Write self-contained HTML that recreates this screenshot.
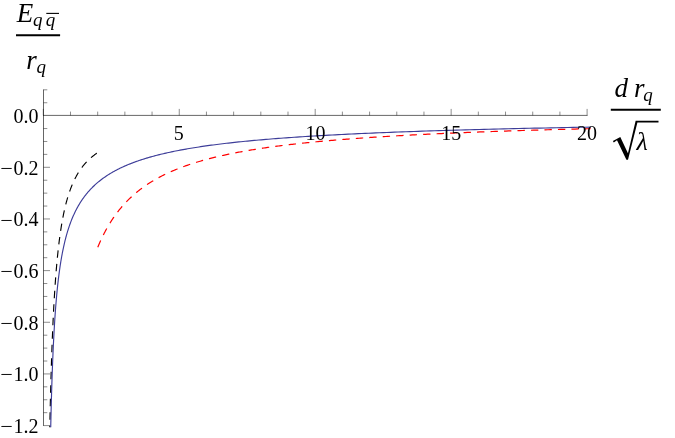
<!DOCTYPE html>
<html><head><meta charset="utf-8"><title>plot</title>
<style>
html,body{margin:0;padding:0;background:#fff;}
svg{display:block;will-change:transform;}
text{font-family:"Liberation Serif",serif;fill:#000;}
.tl{font-size:20px;}
.it{font-size:27px;font-style:italic;}
.sub{font-size:19px;font-style:italic;}
.ax{stroke:#000;stroke-width:0.75;stroke-opacity:.8;fill:none;}
.tk{stroke:#000;stroke-width:0.6;stroke-opacity:.75;fill:none;}
.bl{stroke:#3d3d99;stroke-width:1.15;fill:none;}
.rd{stroke:#ff0000;stroke-width:1.2;fill:none;stroke-dasharray:7.36 6.13;}
.bk{stroke:#000;stroke-width:1.15;fill:none;stroke-dasharray:7.37 6.14;}
</style></head><body>
<svg width="675" height="438" viewBox="0 0 675 438">
<rect width="675" height="438" fill="#fff"/>
<line x1="43.5" y1="89.52" x2="43.5" y2="425.89" class="ax"/>
<line x1="43.0" y1="115.4" x2="587.55" y2="115.4" class="ax"/>
<line x1="43.30" y1="115.4" x2="43.30" y2="108.90" class="tk"/>
<line x1="70.49" y1="115.4" x2="70.49" y2="111.60" class="tk"/>
<line x1="97.68" y1="115.4" x2="97.68" y2="111.60" class="tk"/>
<line x1="124.87" y1="115.4" x2="124.87" y2="111.60" class="tk"/>
<line x1="152.06" y1="115.4" x2="152.06" y2="111.60" class="tk"/>
<line x1="179.25" y1="115.4" x2="179.25" y2="108.90" class="tk"/>
<line x1="206.44" y1="115.4" x2="206.44" y2="111.60" class="tk"/>
<line x1="233.63" y1="115.4" x2="233.63" y2="111.60" class="tk"/>
<line x1="260.82" y1="115.4" x2="260.82" y2="111.60" class="tk"/>
<line x1="288.01" y1="115.4" x2="288.01" y2="111.60" class="tk"/>
<line x1="315.20" y1="115.4" x2="315.20" y2="108.90" class="tk"/>
<line x1="342.39" y1="115.4" x2="342.39" y2="111.60" class="tk"/>
<line x1="369.58" y1="115.4" x2="369.58" y2="111.60" class="tk"/>
<line x1="396.77" y1="115.4" x2="396.77" y2="111.60" class="tk"/>
<line x1="423.96" y1="115.4" x2="423.96" y2="111.60" class="tk"/>
<line x1="451.15" y1="115.4" x2="451.15" y2="108.90" class="tk"/>
<line x1="478.34" y1="115.4" x2="478.34" y2="111.60" class="tk"/>
<line x1="505.53" y1="115.4" x2="505.53" y2="111.60" class="tk"/>
<line x1="532.72" y1="115.4" x2="532.72" y2="111.60" class="tk"/>
<line x1="559.91" y1="115.4" x2="559.91" y2="111.60" class="tk"/>
<line x1="587.10" y1="115.4" x2="587.10" y2="108.90" class="tk"/>
<line x1="43.5" y1="89.82" x2="47.30" y2="89.82" class="tk"/>
<line x1="43.5" y1="102.74" x2="47.30" y2="102.74" class="tk"/>
<line x1="43.5" y1="128.56" x2="47.30" y2="128.56" class="tk"/>
<line x1="43.5" y1="141.48" x2="47.30" y2="141.48" class="tk"/>
<line x1="43.5" y1="154.39" x2="47.30" y2="154.39" class="tk"/>
<line x1="43.5" y1="167.31" x2="50.00" y2="167.31" class="tk"/>
<line x1="43.5" y1="180.22" x2="47.30" y2="180.22" class="tk"/>
<line x1="43.5" y1="193.13" x2="47.30" y2="193.13" class="tk"/>
<line x1="43.5" y1="206.05" x2="47.30" y2="206.05" class="tk"/>
<line x1="43.5" y1="218.96" x2="50.00" y2="218.96" class="tk"/>
<line x1="43.5" y1="231.88" x2="47.30" y2="231.88" class="tk"/>
<line x1="43.5" y1="244.79" x2="47.30" y2="244.79" class="tk"/>
<line x1="43.5" y1="257.70" x2="47.30" y2="257.70" class="tk"/>
<line x1="43.5" y1="270.62" x2="50.00" y2="270.62" class="tk"/>
<line x1="43.5" y1="283.53" x2="47.30" y2="283.53" class="tk"/>
<line x1="43.5" y1="296.45" x2="47.30" y2="296.45" class="tk"/>
<line x1="43.5" y1="309.36" x2="47.30" y2="309.36" class="tk"/>
<line x1="43.5" y1="322.27" x2="50.00" y2="322.27" class="tk"/>
<line x1="43.5" y1="335.19" x2="47.30" y2="335.19" class="tk"/>
<line x1="43.5" y1="348.10" x2="47.30" y2="348.10" class="tk"/>
<line x1="43.5" y1="361.02" x2="47.30" y2="361.02" class="tk"/>
<line x1="43.5" y1="373.93" x2="50.00" y2="373.93" class="tk"/>
<line x1="43.5" y1="386.84" x2="47.30" y2="386.84" class="tk"/>
<line x1="43.5" y1="399.76" x2="47.30" y2="399.76" class="tk"/>
<line x1="43.5" y1="412.67" x2="47.30" y2="412.67" class="tk"/>
<line x1="43.5" y1="425.59" x2="50.00" y2="425.59" class="tk"/>
<path d="M96.87 153.15 L96.59 153.34 L96.31 153.54 L96.02 153.74 L95.74 153.94 L95.46 154.14 L95.19 154.34 L94.91 154.55 L94.64 154.75 L94.36 154.96 L94.09 155.17 L93.82 155.37 L93.55 155.58 L93.29 155.79 L93.02 156.00 L92.76 156.22 L92.49 156.43 L92.23 156.64 L91.97 156.86 L91.71 157.08 L91.45 157.30 L91.20 157.51 L90.94 157.74 L90.69 157.96 L90.44 158.18 L90.19 158.40 L89.94 158.63 L89.69 158.86 L89.44 159.08 L89.20 159.31 L88.96 159.54 L88.71 159.77 L88.47 160.01 L88.23 160.24 L87.99 160.48 L87.75 160.71 L87.52 160.95 L87.28 161.19 L87.05 161.43 L86.82 161.67 L86.59 161.91 L86.36 162.16 L86.13 162.40 L85.90 162.65 L85.67 162.90 L85.45 163.15 L85.22 163.40 L85.00 163.65 L84.78 163.90 L84.56 164.16 L84.34 164.41 L84.12 164.67 L83.91 164.93 L83.69 165.19 L83.47 165.45 L83.26 165.72 L83.05 165.98 L82.84 166.25 L82.63 166.51 L82.42 166.78 L82.21 167.05 L82.00 167.32 L81.80 167.60 L81.59 167.87 L81.39 168.15 L81.19 168.43 L80.99 168.70 L80.79 168.99 L80.59 169.27 L80.39 169.55 L80.19 169.84 L80.00 170.12 L79.80 170.41 L79.61 170.70 L79.42 170.99 L79.22 171.28 L79.03 171.58 L78.84 171.87 L78.66 172.17 L78.47 172.47 L78.28 172.77 L78.10 173.07 L77.91 173.38 L77.73 173.68 L77.54 173.99 L77.36 174.30 L77.18 174.61 L77.00 174.92 L76.82 175.24 L76.65 175.55 L76.47 175.87 L76.29 176.19 L76.12 176.51 L75.94 176.83 L75.77 177.16 L75.60 177.48 L75.43 177.81 L75.26 178.14 L75.09 178.47 L74.92 178.80 L74.75 179.14 L74.58 179.48 L74.42 179.81 L74.25 180.15 L74.09 180.50 L73.92 180.84 L73.76 181.19 L73.60 181.53 L73.44 181.88 L73.28 182.23 L73.12 182.59 L72.96 182.94 L72.81 183.30 L72.65 183.66 L72.49 184.02 L72.34 184.38 L72.18 184.75 L72.03 185.11 L71.88 185.48 L71.73 185.85 L71.58 186.23 L71.43 186.60 L71.28 186.98 L71.13 187.35 L70.98 187.74 L70.84 188.12 L70.69 188.50 L70.54 188.89 L70.40 189.28 L70.26 189.67 L70.11 190.06 L69.97 190.46 L69.83 190.86 L69.69 191.25 L69.55 191.66 L69.41 192.06 L69.27 192.47 L69.13 192.87 L69.00 193.28 L68.86 193.70 L68.73 194.11 L68.59 194.53 L68.46 194.95 L68.32 195.37 L68.19 195.79 L68.06 196.22 L67.93 196.65 L67.80 197.08 L67.67 197.51 L67.54 197.95 L67.41 198.38 L67.28 198.82 L67.16 199.27 L67.03 199.71 L66.90 200.16 L66.78 200.61 L66.66 201.06 L66.53 201.51 L66.41 201.97 L66.29 202.43 L66.16 202.89 L66.04 203.35 L65.92 203.82 L65.80 204.29 L65.68 204.76 L65.57 205.24 L65.45 205.71 L65.33 206.19 L65.21 206.67 L65.10 207.16 L64.98 207.64 L64.87 208.13 L64.75 208.63 L64.64 209.12 L64.53 209.62 L64.42 210.12 L64.30 210.62 L64.19 211.13 L64.08 211.63 L63.97 212.15 L63.86 212.66 L63.76 213.18 L63.65 213.70 L63.54 214.22 L63.43 214.74 L63.33 215.27 L63.22 215.80 L63.11 216.33 L63.01 216.87 L62.91 217.41 L62.80 217.95 L62.70 218.50 L62.60 219.04 L62.49 219.59 L62.39 220.15 L62.29 220.71 L62.19 221.26 L62.09 221.83 L61.99 222.39 L61.89 222.96 L61.80 223.53 L61.70 224.11 L61.60 224.69 L61.50 225.27 L61.41 225.85 L61.31 226.44 L61.22 227.03 L61.12 227.62 L61.03 228.22 L60.94 228.82 L60.84 229.42 L60.75 230.03 L60.66 230.64 L60.57 231.25 L60.48 231.87 L60.38 232.49 L60.29 233.11 L60.20 233.74 L60.12 234.37 L60.03 235.00 L59.94 235.64 L59.85 236.28 L59.76 236.92 L59.68 237.57 L59.59 238.22 L59.50 238.87 L59.42 239.53 L59.33 240.19 L59.25 240.85 L59.17 241.52 L59.08 242.19 L59.00 242.87 L58.92 243.55 L58.83 244.23 L58.75 244.91 L58.67 245.60 L58.59 246.30 L58.51 246.99 L58.43 247.69 L58.35 248.40 L58.27 249.11 L58.19 249.82 L58.11 250.54 L58.03 251.25 L57.96 251.98 L57.88 252.71 L57.80 253.44 L57.73 254.17 L57.65 254.91 L57.57 255.66 L57.50 256.40 L57.42 257.15 L57.35 257.91 L57.28 258.67 L57.20 259.43 L57.13 260.20 L57.06 260.97 L56.98 261.75 L56.91 262.53 L56.84 263.31 L56.77 264.10 L56.70 264.89 L56.63 265.69 L56.56 266.49 L56.49 267.30 L56.42 268.11 L56.35 268.92 L56.28 269.74 L56.21 270.56 L56.15 271.39 L56.08 272.22 L56.01 273.06 L55.94 273.90 L55.88 274.74 L55.81 275.59 L55.75 276.45 L55.68 277.30 L55.62 278.17 L55.55 279.04 L55.49 279.91 L55.42 280.79 L55.36 281.67 L55.30 282.56 L55.23 283.45 L55.17 284.34 L55.11 285.24 L55.05 286.15 L54.98 287.06 L54.92 287.98 L54.86 288.90 L54.80 289.82 L54.74 290.76 L54.68 291.69 L54.62 292.63 L54.56 293.58 L54.50 294.53 L54.44 295.48 L54.39 296.44 L54.33 297.41 L54.27 298.38 L54.21 299.36 L54.15 300.34 L54.10 301.33 L54.04 302.32 L53.99 303.32 L53.93 304.32 L53.87 305.33 L53.82 306.34 L53.76 307.36 L53.71 308.39 L53.65 309.42 L53.60 310.45 L53.55 311.50 L53.49 312.54 L53.44 313.60 L53.39 314.65 L53.33 315.72 L53.28 316.79 L53.23 317.86 L53.18 318.94 L53.12 320.03 L53.07 321.12 L53.02 322.22 L52.97 323.33 L52.92 324.44 L52.87 325.55 L52.82 326.68 L52.77 327.80 L52.72 328.94 L52.67 330.08 L52.62 331.23 L52.57 332.38 L52.53 333.54 L52.48 334.70 L52.43 335.88 L52.38 337.05 L52.33 338.24 L52.29 339.43 L52.24 340.62 L52.19 341.83 L52.15 343.04 L52.10 344.25 L52.06 345.48 L52.01 346.71 L51.96 347.94 L51.92 349.19 L51.87 350.43 L51.83 351.69 L51.78 352.95 L51.74 354.22 L51.70 355.50 L51.65 356.78 L51.61 358.07 L51.57 359.37 L51.52 360.67 L51.48 361.98 L51.44 363.30 L51.40 364.63 L51.35 365.96 L51.31 367.30 L51.27 368.65 L51.23 370.00 L51.19 371.36 L51.15 372.73 L51.10 374.10 L51.06 375.49 L51.02 376.88 L50.98 378.28 L50.94 379.68 L50.90 381.09 L50.86 382.51 L50.83 383.94 L50.79 385.38 L50.75 386.82 L50.71 388.27 L50.67 389.73 L50.63 391.20 L50.59 392.67 L50.56 394.16 L50.52 395.65 L50.48 397.15 L50.44 398.65 L50.41 400.17 L50.37 401.69 L50.33 403.22 L50.30 404.76 L50.26 406.31 L50.22 407.86 L50.19 409.43 L50.15 411.00 L50.12 412.58 L50.08 414.17 L50.05 415.77 L50.01 417.38 L49.98 418.99 L49.94 420.62 L49.91 422.25 L49.87 423.89 L49.84 425.54 L49.81 427.20" class="bk"/>
<path d="M97.77 247.23 L98.09 246.47 L98.40 245.71 L98.72 244.96 L99.04 244.21 L99.37 243.47 L99.69 242.73 L100.02 242.00 L100.34 241.27 L100.67 240.54 L101.01 239.82 L101.34 239.10 L101.68 238.39 L102.01 237.68 L102.35 236.98 L102.70 236.28 L103.04 235.58 L103.39 234.89 L103.73 234.20 L104.08 233.51 L104.44 232.83 L104.79 232.16 L105.15 231.48 L105.50 230.81 L105.86 230.15 L106.23 229.49 L106.59 228.83 L106.96 228.18 L107.32 227.53 L107.70 226.88 L108.07 226.24 L108.44 225.60 L108.82 224.96 L109.20 224.33 L109.58 223.70 L109.97 223.08 L110.35 222.46 L110.74 221.84 L111.13 221.23 L111.52 220.62 L111.92 220.01 L112.31 219.41 L112.71 218.81 L113.12 218.21 L113.52 217.62 L113.93 217.03 L114.34 216.45 L114.75 215.87 L115.16 215.29 L115.58 214.71 L116.00 214.14 L116.42 213.57 L116.84 213.00 L117.27 212.44 L117.70 211.88 L118.13 211.33 L118.56 210.77 L119.00 210.22 L119.43 209.68 L119.88 209.13 L120.32 208.59 L120.76 208.06 L121.21 207.52 L121.66 206.99 L122.12 206.47 L122.58 205.94 L123.03 205.42 L123.50 204.90 L123.96 204.39 L124.43 203.87 L124.90 203.36 L125.37 202.86 L125.85 202.35 L126.33 201.85 L126.81 201.35 L127.29 200.86 L127.78 200.37 L128.27 199.88 L128.76 199.39 L129.25 198.91 L129.75 198.43 L130.25 197.95 L130.76 197.47 L131.26 197.00 L131.77 196.53 L132.29 196.06 L132.80 195.60 L133.32 195.14 L133.84 194.68 L134.37 194.22 L134.89 193.77 L135.42 193.31 L135.96 192.87 L136.50 192.42 L137.04 191.98 L137.58 191.54 L138.12 191.10 L138.67 190.66 L139.23 190.23 L139.78 189.80 L140.34 189.37 L140.90 188.94 L141.47 188.52 L142.04 188.10 L142.61 187.68 L143.19 187.26 L143.77 186.85 L144.35 186.44 L144.93 186.03 L145.52 185.62 L146.12 185.22 L146.71 184.82 L147.31 184.42 L147.91 184.02 L148.52 183.62 L149.13 183.23 L149.74 182.84 L150.36 182.45 L150.98 182.07 L151.61 181.68 L152.23 181.30 L152.87 180.92 L153.50 180.54 L154.14 180.17 L154.78 179.80 L155.43 179.43 L156.08 179.06 L156.73 178.69 L157.39 178.33 L158.05 177.97 L158.72 177.61 L159.39 177.25 L160.06 176.89 L160.74 176.54 L161.42 176.19 L162.10 175.84 L162.79 175.49 L163.48 175.14 L164.18 174.80 L164.88 174.46 L165.59 174.12 L166.29 173.78 L167.01 173.44 L167.72 173.11 L168.45 172.78 L169.17 172.45 L169.90 172.12 L170.64 171.79 L171.37 171.47 L172.12 171.15 L172.86 170.82 L173.62 170.51 L174.37 170.19 L175.13 169.87 L175.90 169.56 L176.66 169.25 L177.44 168.94 L178.22 168.63 L179.00 168.33 L179.78 168.02 L180.58 167.72 L181.37 167.42 L182.17 167.12 L182.98 166.82 L183.79 166.52 L184.60 166.23 L185.42 165.94 L186.25 165.65 L187.08 165.36 L187.91 165.07 L188.75 164.79 L189.59 164.50 L190.44 164.22 L191.29 163.94 L192.15 163.66 L193.02 163.38 L193.88 163.11 L194.76 162.83 L195.64 162.56 L196.52 162.29 L197.41 162.02 L198.30 161.75 L199.20 161.48 L200.11 161.22 L201.01 160.96 L201.93 160.69 L202.85 160.43 L203.78 160.18 L204.71 159.92 L205.64 159.66 L206.58 159.41 L207.53 159.15 L208.48 158.90 L209.44 158.65 L210.41 158.40 L211.38 158.16 L212.35 157.91 L213.33 157.67 L214.32 157.42 L215.31 157.18 L216.31 156.94 L217.31 156.70 L218.32 156.47 L219.34 156.23 L220.36 156.00 L221.38 155.76 L222.42 155.53 L223.46 155.30 L224.50 155.07 L225.55 154.84 L226.61 154.62 L227.67 154.39 L228.74 154.17 L229.82 153.95 L230.90 153.72 L231.99 153.50 L233.08 153.29 L234.18 153.07 L235.29 152.85 L236.41 152.64 L237.53 152.42 L238.65 152.21 L239.79 152.00 L240.93 151.79 L242.07 151.58 L243.23 151.37 L244.39 151.17 L245.55 150.96 L246.73 150.76 L247.91 150.55 L249.09 150.35 L250.29 150.15 L251.49 149.95 L252.70 149.75 L253.91 149.56 L255.13 149.36 L256.36 149.16 L257.60 148.97 L258.84 148.78 L260.09 148.59 L261.35 148.40 L262.62 148.21 L263.89 148.02 L265.17 147.83 L266.46 147.65 L267.75 147.46 L269.05 147.28 L270.36 147.09 L271.68 146.91 L273.01 146.73 L274.34 146.55 L275.68 146.37 L277.03 146.20 L278.38 146.02 L279.75 145.84 L281.12 145.67 L282.50 145.49 L283.89 145.32 L285.28 145.15 L286.69 144.98 L288.10 144.81 L289.52 144.64 L290.95 144.47 L292.39 144.31 L293.83 144.14 L295.29 143.98 L296.75 143.81 L298.22 143.65 L299.70 143.49 L301.19 143.33 L302.68 143.17 L304.19 143.01 L305.70 142.85 L307.23 142.69 L308.76 142.54 L310.30 142.38 L311.85 142.23 L313.41 142.07 L314.97 141.92 L316.55 141.77 L318.14 141.62 L319.73 141.47 L321.34 141.32 L322.95 141.17 L324.57 141.02 L326.20 140.87 L327.85 140.73 L329.50 140.58 L331.16 140.44 L332.83 140.30 L334.51 140.15 L336.20 140.01 L337.90 139.87 L339.61 139.73 L341.33 139.59 L343.06 139.45 L344.80 139.31 L346.55 139.18 L348.31 139.04 L350.08 138.91 L351.86 138.77 L353.65 138.64 L355.45 138.51 L357.26 138.37 L359.09 138.24 L360.92 138.11 L362.76 137.98 L364.62 137.85 L366.48 137.72 L368.36 137.60 L370.24 137.47 L372.14 137.34 L374.05 137.22 L375.97 137.09 L377.90 136.97 L379.84 136.84 L381.80 136.72 L383.76 136.60 L385.74 136.48 L387.72 136.36 L389.72 136.24 L391.73 136.12 L393.76 136.00 L395.79 135.88 L397.84 135.77 L399.89 135.65 L401.96 135.53 L404.05 135.42 L406.14 135.30 L408.25 135.19 L410.36 135.08 L412.49 134.97 L414.64 134.85 L416.79 134.74 L418.96 134.63 L421.14 134.52 L423.33 134.41 L425.54 134.30 L427.76 134.20 L429.99 134.09 L432.24 133.98 L434.49 133.88 L436.76 133.77 L439.05 133.67 L441.35 133.56 L443.66 133.46 L445.98 133.35 L448.32 133.25 L450.67 133.15 L453.03 133.05 L455.41 132.95 L457.80 132.85 L460.21 132.75 L462.63 132.65 L465.06 132.55 L467.51 132.45 L469.98 132.36 L472.45 132.26 L474.94 132.16 L477.45 132.07 L479.97 131.97 L482.50 131.88 L485.05 131.78 L487.62 131.69 L490.20 131.60 L492.79 131.51 L495.40 131.41 L498.03 131.32 L500.67 131.23 L503.32 131.14 L505.99 131.05 L508.68 130.96 L511.38 130.87 L514.10 130.79 L516.83 130.70 L519.58 130.61 L522.34 130.52 L525.12 130.44 L527.92 130.35 L530.73 130.27 L533.56 130.18 L536.41 130.10 L539.27 130.01 L542.15 129.93 L545.05 129.85 L547.96 129.77 L550.89 129.69 L553.84 129.60 L556.80 129.52 L559.78 129.44 L562.78 129.36 L565.80 129.28 L568.83 129.20 L571.88 129.13 L574.95 129.05 L578.04 128.97 L581.14 128.89 L584.26 128.82 L587.40 128.74 L590.56 128.66" class="rd"/>
<path d="M50.72 427.20 L50.80 423.66 L50.88 420.17 L50.96 416.75 L51.04 413.38 L51.12 410.07 L51.21 406.81 L51.29 403.61 L51.37 400.46 L51.46 397.36 L51.55 394.31 L51.63 391.31 L51.72 388.36 L51.81 385.46 L51.90 382.61 L52.00 379.79 L52.09 377.03 L52.18 374.31 L52.28 371.63 L52.37 368.99 L52.47 366.40 L52.57 363.84 L52.67 361.32 L52.77 358.85 L52.87 356.41 L52.97 354.01 L53.07 351.64 L53.18 349.31 L53.28 347.02 L53.39 344.76 L53.50 342.53 L53.61 340.34 L53.72 338.18 L53.83 336.05 L53.94 333.95 L54.05 331.88 L54.17 329.84 L54.29 327.83 L54.40 325.85 L54.52 323.90 L54.64 321.98 L54.76 320.08 L54.89 318.21 L55.01 316.36 L55.14 314.54 L55.26 312.75 L55.39 310.98 L55.52 309.23 L55.65 307.51 L55.78 305.80 L55.92 304.13 L56.05 302.47 L56.19 300.84 L56.33 299.22 L56.47 297.63 L56.61 296.06 L56.75 294.51 L56.90 292.98 L57.04 291.47 L57.19 289.97 L57.34 288.50 L57.49 287.04 L57.64 285.60 L57.80 284.18 L57.96 282.78 L58.11 281.39 L58.27 280.02 L58.43 278.67 L58.60 277.33 L58.76 276.00 L58.93 274.70 L59.10 273.40 L59.27 272.13 L59.44 270.86 L59.61 269.62 L59.79 268.38 L59.96 267.16 L60.14 265.95 L60.33 264.76 L60.51 263.58 L60.69 262.41 L60.88 261.25 L61.07 260.11 L61.26 258.98 L61.46 257.86 L61.65 256.75 L61.85 255.65 L62.05 254.57 L62.25 253.49 L62.46 252.43 L62.67 251.38 L62.87 250.33 L63.09 249.30 L63.30 248.28 L63.52 247.27 L63.73 246.27 L63.95 245.27 L64.18 244.29 L64.40 243.32 L64.63 242.35 L64.86 241.40 L65.09 240.45 L65.33 239.52 L65.57 238.59 L65.81 237.67 L66.05 236.75 L66.30 235.85 L66.55 234.95 L66.80 234.07 L67.05 233.19 L67.31 232.31 L67.57 231.45 L67.83 230.59 L68.10 229.74 L68.36 228.90 L68.64 228.07 L68.91 227.24 L69.19 226.42 L69.47 225.60 L69.75 224.79 L70.04 223.99 L70.33 223.20 L70.62 222.41 L70.91 221.63 L71.21 220.85 L71.52 220.08 L71.82 219.32 L72.13 218.56 L72.44 217.81 L72.76 217.07 L73.08 216.33 L73.40 215.59 L73.73 214.87 L74.06 214.14 L74.39 213.43 L74.73 212.72 L75.07 212.01 L75.41 211.31 L75.76 210.61 L76.11 209.92 L76.47 209.24 L76.83 208.56 L77.19 207.88 L77.56 207.21 L77.93 206.55 L78.30 205.89 L78.68 205.23 L79.07 204.58 L79.45 203.94 L79.85 203.29 L80.24 202.66 L80.64 202.02 L81.05 201.40 L81.46 200.77 L81.87 200.15 L82.29 199.54 L82.71 198.93 L83.14 198.32 L83.57 197.72 L84.01 197.12 L84.45 196.53 L84.90 195.94 L85.35 195.35 L85.81 194.77 L86.27 194.20 L86.74 193.62 L87.21 193.05 L87.68 192.49 L88.17 191.92 L88.65 191.37 L89.15 190.81 L89.64 190.26 L90.15 189.71 L90.66 189.17 L91.17 188.63 L91.69 188.10 L92.22 187.56 L92.75 187.03 L93.28 186.51 L93.83 185.99 L94.38 185.47 L94.93 184.95 L95.49 184.44 L96.06 183.93 L96.63 183.43 L97.21 182.93 L97.80 182.43 L98.39 181.93 L98.99 181.44 L99.59 180.96 L100.21 180.47 L100.82 179.99 L101.45 179.51 L102.08 179.03 L102.72 178.56 L103.37 178.09 L104.02 177.63 L104.68 177.16 L105.35 176.70 L106.02 176.24 L106.70 175.79 L107.39 175.34 L108.09 174.89 L108.79 174.45 L109.51 174.00 L110.23 173.56 L110.95 173.13 L111.69 172.69 L112.43 172.26 L113.18 171.83 L113.94 171.41 L114.71 170.99 L115.49 170.57 L116.27 170.15 L117.07 169.73 L117.87 169.32 L118.68 168.91 L119.50 168.51 L120.33 168.10 L121.17 167.70 L122.02 167.31 L122.87 166.91 L123.74 166.52 L124.61 166.13 L125.50 165.74 L126.39 165.35 L127.30 164.97 L128.21 164.59 L129.13 164.21 L130.07 163.84 L131.01 163.47 L131.97 163.10 L132.93 162.73 L133.91 162.36 L134.89 162.00 L135.89 161.64 L136.90 161.28 L137.92 160.93 L138.95 160.57 L139.99 160.22 L141.04 159.87 L142.10 159.53 L143.18 159.18 L144.27 158.84 L145.37 158.50 L146.48 158.17 L147.60 157.83 L148.74 157.50 L149.88 157.17 L151.04 156.84 L152.22 156.52 L153.40 156.19 L154.60 155.87 L155.81 155.55 L157.04 155.24 L158.28 154.92 L159.53 154.61 L160.79 154.30 L162.07 153.99 L163.37 153.69 L164.67 153.38 L165.99 153.08 L167.33 152.78 L168.68 152.48 L170.05 152.19 L171.43 151.89 L172.82 151.60 L174.23 151.31 L175.66 151.03 L177.10 150.74 L178.56 150.46 L180.03 150.18 L181.52 149.90 L183.02 149.62 L184.55 149.34 L186.08 149.07 L187.64 148.80 L189.21 148.53 L190.80 148.26 L192.41 148.00 L194.03 147.73 L195.67 147.47 L197.33 147.21 L199.01 146.95 L200.71 146.69 L202.42 146.44 L204.16 146.19 L205.91 145.94 L207.68 145.69 L209.47 145.44 L211.28 145.19 L213.11 144.95 L214.96 144.71 L216.83 144.47 L218.72 144.23 L220.63 143.99 L222.56 143.76 L224.52 143.52 L226.49 143.29 L228.49 143.06 L230.50 142.83 L232.54 142.61 L234.61 142.38 L236.69 142.16 L238.80 141.94 L240.93 141.72 L243.08 141.50 L245.26 141.28 L247.46 141.07 L249.68 140.85 L251.93 140.64 L254.20 140.43 L256.50 140.22 L258.83 140.01 L261.17 139.81 L263.55 139.60 L265.95 139.40 L268.37 139.20 L270.83 139.00 L273.31 138.80 L275.81 138.61 L278.35 138.41 L280.91 138.22 L283.50 138.03 L286.12 137.83 L288.76 137.65 L291.44 137.46 L294.14 137.27 L296.87 137.09 L299.64 136.90 L302.43 136.72 L305.26 136.54 L308.11 136.36 L311.00 136.18 L313.91 136.01 L316.86 135.83 L319.84 135.66 L322.86 135.49 L325.91 135.31 L328.99 135.14 L332.10 134.98 L335.25 134.81 L338.43 134.64 L341.65 134.48 L344.90 134.32 L348.19 134.15 L351.51 133.99 L354.87 133.83 L358.26 133.68 L361.70 133.52 L365.17 133.36 L368.68 133.21 L372.22 133.06 L375.81 132.90 L379.43 132.75 L383.10 132.60 L386.80 132.45 L390.54 132.31 L394.33 132.16 L398.16 132.02 L402.02 131.87 L405.93 131.73 L409.89 131.59 L413.88 131.45 L417.92 131.31 L422.01 131.17 L426.14 131.03 L430.31 130.90 L434.53 130.76 L438.79 130.63 L443.10 130.50 L447.46 130.37 L451.87 130.24 L456.32 130.11 L460.83 129.98 L465.38 129.85 L469.98 129.72 L474.63 129.60 L479.33 129.48 L484.09 129.35 L488.89 129.23 L493.75 129.11 L498.66 128.99 L503.62 128.87 L508.64 128.75 L513.72 128.63 L518.84 128.52 L524.03 128.40 L529.27 128.29 L534.57 128.18 L539.92 128.06 L545.34 127.95 L550.81 127.84 L556.35 127.73 L561.94 127.62 L567.59 127.52 L573.31 127.41 L579.09 127.30 L584.93 127.20 L590.83 127.09" class="bl"/>
<text x="38.6" y="122.90" text-anchor="end" class="tl">0.0</text>
<text transform="translate(0.25,174.86) scale(1.112,1)" x="0" y="0" class="tl">−</text>
<text x="38.6" y="174.56" text-anchor="end" class="tl">0.2</text>
<text transform="translate(0.25,226.51) scale(1.112,1)" x="0" y="0" class="tl">−</text>
<text x="38.6" y="226.21" text-anchor="end" class="tl">0.4</text>
<text transform="translate(0.25,278.17) scale(1.112,1)" x="0" y="0" class="tl">−</text>
<text x="38.6" y="277.87" text-anchor="end" class="tl">0.6</text>
<text transform="translate(0.25,329.82) scale(1.112,1)" x="0" y="0" class="tl">−</text>
<text x="38.6" y="329.52" text-anchor="end" class="tl">0.8</text>
<text transform="translate(0.25,381.48) scale(1.112,1)" x="0" y="0" class="tl">−</text>
<text x="38.6" y="381.18" text-anchor="end" class="tl">1.0</text>
<text transform="translate(0.25,433.14) scale(1.112,1)" x="0" y="0" class="tl">−</text>
<text x="38.6" y="432.84" text-anchor="end" class="tl">1.2</text>
<text x="178.85" y="140.25" text-anchor="middle" class="tl">5</text>
<text x="315.60" y="140.25" text-anchor="middle" class="tl">10</text>
<text x="451.35" y="140.25" text-anchor="middle" class="tl">15</text>
<text x="586.90" y="140.25" text-anchor="middle" class="tl">20</text>
<text x="16.7" y="21.5" class="it">E</text>
<text x="32.9" y="25.9" class="sub">q</text>
<text x="45.8" y="25.9" class="sub">q</text>
<line x1="46.3" y1="13.4" x2="59" y2="13.4" stroke="#000" stroke-width="1.1"/>
<line x1="16" y1="35.2" x2="60.1" y2="35.2" stroke="#000" stroke-width="1.95"/>
<text x="26.3" y="69.1" class="it">r</text>
<text x="36.4" y="73.2" class="sub">q</text>
<text x="614.4" y="96.5" class="it">d</text>
<text x="634.0" y="96.6" class="it">r</text>
<text x="643.3" y="100.8" class="sub">q</text>
<line x1="610.8" y1="109.8" x2="660.8" y2="109.8" stroke="#000" stroke-width="1.95"/>
<path d="M613.8 142.4 L612.9 141.0 L620.3 137.0 L627.95 153.2 L635.65 120.7 L658.5 120.7 L658.5 122.4 L637.4 122.4 L628.0 159.8 L626.4 159.8 L617.0 140.3 Z" fill="#000"/>
<text x="636.5" y="150.1" class="it" style="font-size:26px">λ</text>
</svg>
</body></html>
